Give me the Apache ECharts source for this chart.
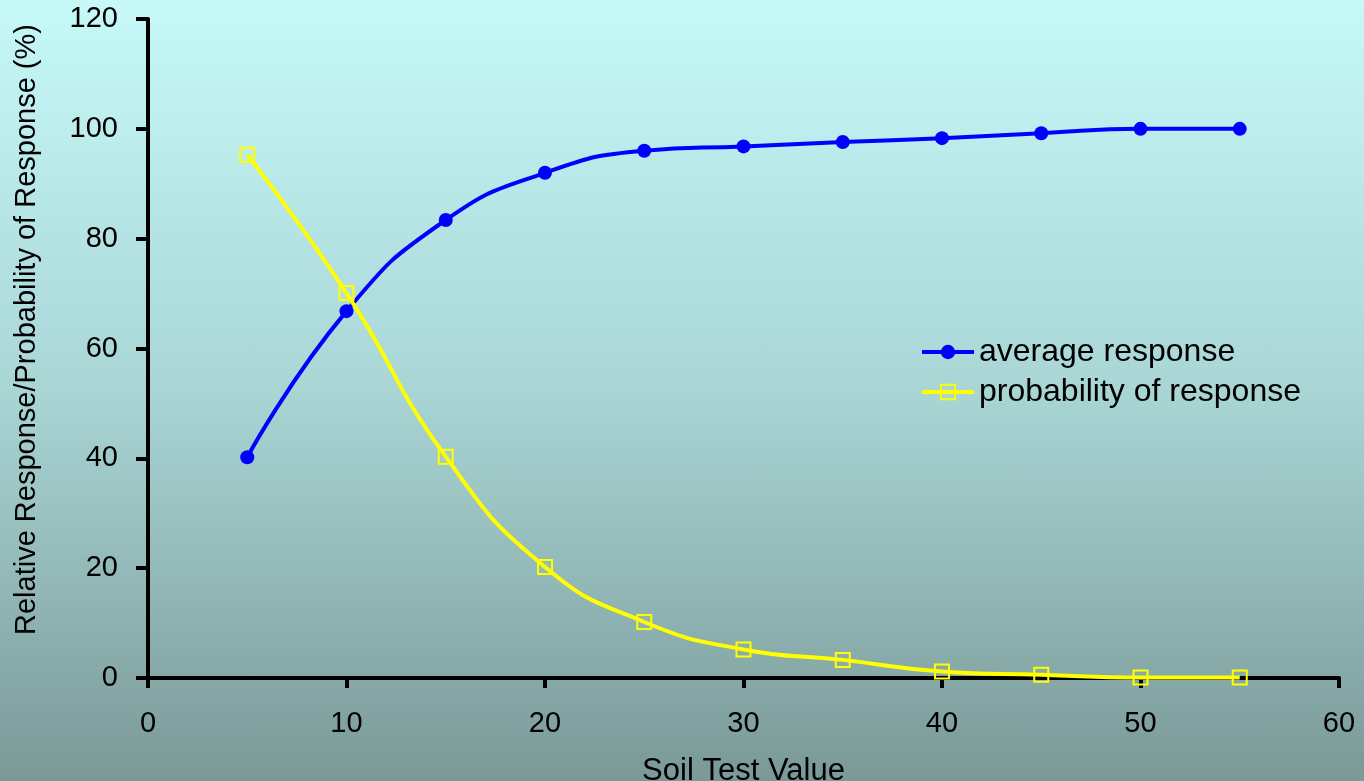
<!DOCTYPE html>
<html>
<head>
<meta charset="utf-8">
<script src="https://cdn.jsdelivr.net/npm/echarts@6/dist/echarts.min.js"></script>
<style>
html,body{margin:0;padding:0;}
#chart{width:1364px;height:781px;background:linear-gradient(to bottom,#c7f9f9 0%,#a9d5d5 50%,#7a9997 100%);}
</style>
</head>
<body>
<div id="chart"></div>
<script>
const soilTest = [5, 10, 15, 20, 25, 30, 35, 40, 45, 50, 55];
const averageResponse = [40.2, 66.8, 83.4, 92.0, 96.0, 96.8, 97.6, 98.3, 99.2, 100.0, 100.0];
const probabilityResponse = [95.3, 70.1, 40.3, 20.2, 10.2, 5.2, 3.3, 1.2, 0.6, 0.1, 0.1];
const xTicks = {min: 0, max: 60, interval: 10};
const yTicks = {min: 0, max: 120, interval: 20};
const seriesNames = ['average response', 'probability of response'];

const chart = echarts.init(document.getElementById('chart'), null, {renderer: 'canvas'});
const font = 'Liberation Sans, Arial, sans-serif';
chart.setOption({
  backgroundColor: 'transparent',
  animation: false,
  grid: {left: 148, right: 25, top: 19, bottom: 103, containLabel: false, outerBoundsMode: 'none'},
  legend: {
    left: 915, top: 331, orient: 'vertical',
    itemWidth: 52, itemHeight: 18, itemGap: 8,
    lineStyle: {width: 4},
    textStyle: {fontFamily: font, fontSize: 32, color: '#000'},
    data: seriesNames
  },
  xAxis: {
    type: 'value', min: xTicks.min, max: xTicks.max, interval: xTicks.interval,
    name: 'Soil Test Value', nameLocation: 'middle', nameGap: 78,
    nameTextStyle: {fontFamily: font, fontSize: 31, color: '#000'},
    axisLine: {show: true, lineStyle: {color: '#000', width: 4}},
    axisTick: {show: true, length: 10, lineStyle: {color: '#000', width: 4}},
    axisLabel: {fontFamily: font, fontSize: 29, color: '#000', margin: 31},
    splitLine: {show: false}
  },
  yAxis: {
    type: 'value', min: yTicks.min, max: yTicks.max, interval: yTicks.interval,
    name: 'Relative Response/Probability of Response (%)', nameLocation: 'middle', nameGap: 107,
    nameTextStyle: {fontFamily: font, fontSize: 29, color: '#000', padding: [0, 0, 0, 38]},
    axisLine: {show: true, lineStyle: {color: '#000', width: 4}},
    axisTick: {show: true, length: 12, lineStyle: {color: '#000', width: 4}},
    axisLabel: {fontFamily: font, fontSize: 29, color: '#000', margin: 30},
    splitLine: {show: false}
  },
  series: [
    {
      name: seriesNames[0], type: 'line', smooth: true,
      data: soilTest.map((x, i) => [x, averageResponse[i]]),
      symbol: 'circle', symbolSize: 14,
      lineStyle: {color: '#0000ff', width: 4},
      itemStyle: {color: '#0000ff'}
    },
    {
      name: seriesNames[1], type: 'line', smooth: true,
      data: soilTest.map((x, i) => [x, probabilityResponse[i]]),
      symbol: 'rect', symbolSize: 14,
      lineStyle: {color: '#ffff00', width: 4},
      itemStyle: {color: 'rgba(0,0,0,0)', borderColor: '#ffff00', borderWidth: 2}
    }
  ]
});
</script>
</body>
</html>
